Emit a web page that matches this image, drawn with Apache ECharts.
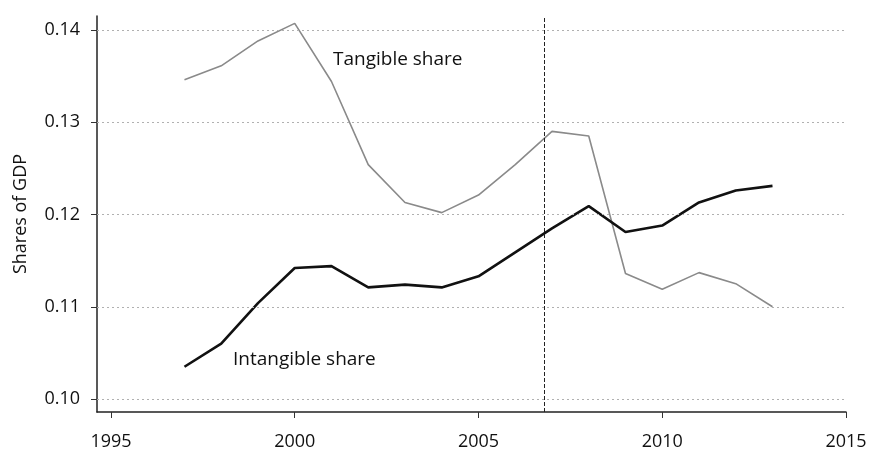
<!DOCTYPE html>
<html>
<head>
<meta charset="utf-8">
<script src="https://cdn.jsdelivr.net/npm/echarts@6/dist/echarts.min.js"></script>
<style>
html,body{margin:0;padding:0;background:#fff;}
#chart{width:869px;height:451px;}
</style>
</head>
<body>
<div id="chart"></div>
<script>
const years = [1997,1998,1999,2000,2001,2002,2003,2004,2005,2006,2007,2008,2009,2010,2011,2012,2013];
const tangible = [0.1346,0.1361,0.1388,0.1407,0.1344,0.1254,0.1213,0.1202,0.1221,0.1254,0.1290,0.1285,0.1136,0.1119,0.1137,0.1125,0.1100];
const intangible = [0.1035,0.1060,0.1104,0.1142,0.1144,0.1121,0.1124,0.1121,0.1133,0.1159,0.1185,0.1209,0.1181,0.1188,0.1213,0.1226,0.1231];
const xTicks = [1995,2000,2005,2010,2015];
const yTicks = [0.10,0.11,0.12,0.13,0.14];
const crisisYear = 2006.8;

const font = '"Open Sans", "Noto Sans", sans-serif';
const chart = echarts.init(document.getElementById('chart'));
chart.setOption({
  animation: false,
  backgroundColor: '#fff',
  grid: {left: 97, right: 23, top: 16, bottom: 39, containLabel: false, outerBoundsMode: 'none'},
  xAxis: {
    type: 'value', min: 1994.62, max: 2015,
    axisLine: {show: true, lineStyle: {color: '#222', width: 1.5}},
    axisTick: {show: true, customValues: xTicks, length: 6, inside: false, lineStyle: {color: '#333'}},
    axisLabel: {customValues: xTicks, color: '#111', fontSize: 18, fontFamily: font, margin: 21,
      formatter: v => String(v)},
    splitLine: {show: false}
  },
  yAxis: {
    type: 'value', min: 0.0986, max: 0.1415,
    axisLine: {show: true, lineStyle: {color: '#222', width: 1.5}},
    axisTick: {show: true, customValues: yTicks, length: 6, lineStyle: {color: '#333'}},
    axisLabel: {customValues: yTicks, color: '#111', fontSize: 18, fontFamily: font, margin: 17,
      formatter: v => v.toFixed(2)},
    splitLine: {show: false},
    name: 'Shares of GDP', nameLocation: 'middle', nameGap: 67, nameRotate: 90,
    nameTextStyle: {color: '#111', fontSize: 18, fontFamily: font}
  },
  series: [
    {
      type: 'line', name: 'Tangible share',
      data: years.map((y, i) => [y, tangible[i]]),
      symbol: 'none', lineStyle: {color: '#8a8a8a', width: 1.6},
      markLine: {
        silent: true, symbol: 'none', label: {show: false},
        lineStyle: {color: '#b0b0b0', type: [2, 3], width: 1},
        data: yTicks.map(v => ({yAxis: v}))
      }
    },
    {
      type: 'line', name: 'Intangible share',
      data: years.map((y, i) => [y, intangible[i]]),
      symbol: 'none', lineStyle: {color: '#111', width: 2.6},
      markLine: {
        silent: true, symbol: 'none', label: {show: false},
        lineStyle: {color: '#222', type: [4, 2], width: 1},
        data: [{xAxis: crisisYear}]
      }
    }
  ],
  graphic: [
    {type: 'text', left: 333, top: 50, style: {text: 'Tangible share', fill: '#111', font: '19px ' + font}},
    {type: 'text', left: 233, top: 350, style: {text: 'Intangible share', fill: '#111', font: '19px ' + font}}
  ]
});
</script>
</body>
</html>
